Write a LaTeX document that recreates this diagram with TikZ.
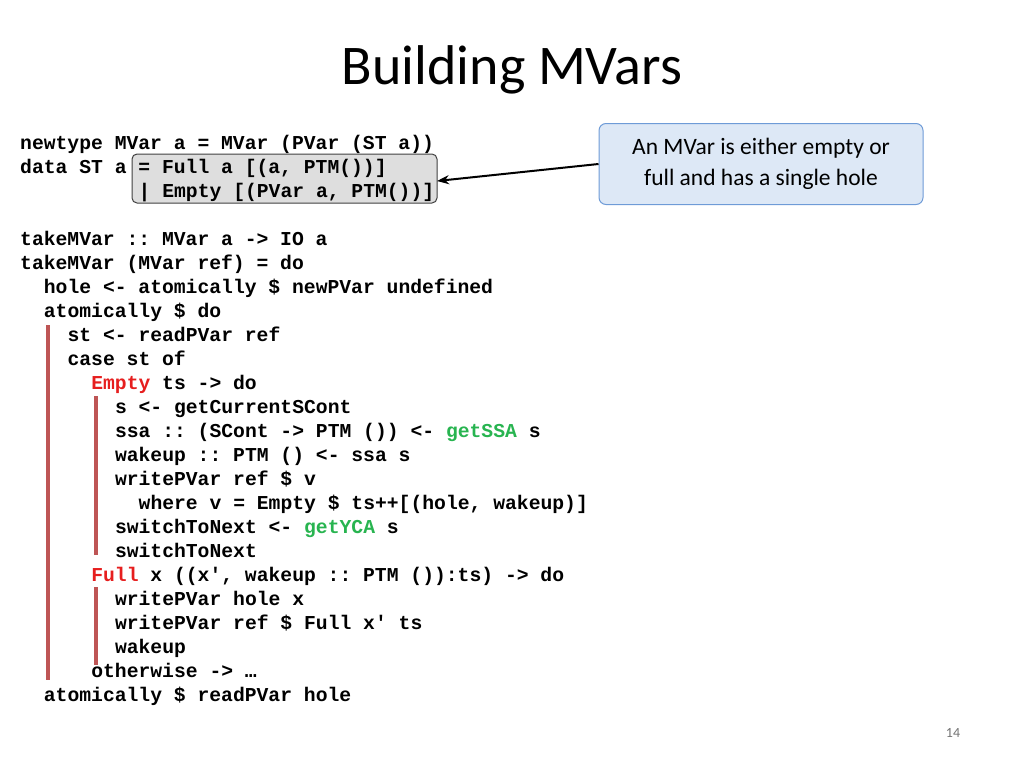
\documentclass[tikz,border=0pt]{standalone}
\usepackage{fontspec}
\usetikzlibrary{arrows.meta}
\setmainfont{Carlito}
\setmonofont{Liberation Mono}
\definecolor{kred}{RGB}{230,30,30}
\definecolor{kgreen}{RGB}{40,180,80}
\definecolor{barred}{RGB}{190,85,85}
\definecolor{callfill}{RGB}{221,232,246}
\definecolor{calldraw}{RGB}{110,155,215}
\newcommand\codeline[4]{\node[code] (#1) at ({20+#2*11.85},{#3+7}) {#4};}
\newcommand\R[1]{\textcolor{kred}{#1}}
\newcommand\G[1]{\textcolor{kgreen}{#1}}
\begin{document}
\begin{tikzpicture}[x=1pt,y=-1pt,
  code/.style={anchor=base west,inner sep=0pt,font=\fontsize{19.7}{24}\ttfamily\bfseries},
  bar/.style={barred,line width=4pt},
  hl/.style={draw=black!75,fill=black!13,rounded corners=5pt,line width=1pt}]
\useasboundingbox (0,0) rectangle (1024,768);
\node[font=\fontsize{56}{60}\selectfont] (title) at (512,70) {Building MVars};
\draw[hl] (132,154) rectangle (437,203);
\codeline{l1}{0}{142}{newtype MVar a = MVar (PVar (ST a))}
\codeline{l2}{0}{166}{data ST a = Full a [(a, PTM())]}
\codeline{l3}{10}{190}{| Empty [(PVar a, PTM())]}
\coordinate (boxr) at (437,181);
\node[draw=calldraw,fill=callfill,rounded corners=7pt,line width=1pt,minimum width=324pt,minimum height=81pt,align=center,font=\fontsize{23.5}{31}\selectfont] (call) at (761,164) {An MVar is either empty or\\full and has a single hole};
\draw[-{Stealth[length=12pt,width=9pt]},line width=2pt] (call.west) -- (boxr);
\codeline{c1}{0}{238}{takeMVar :: MVar a -> IO a}
\codeline{c2}{0}{262}{takeMVar (MVar ref) = do}
\codeline{c3}{2}{286}{hole <- atomically \$ newPVar undefined}
\codeline{c4}{2}{310}{atomically \$ do}
\codeline{c5}{4}{334}{st <- readPVar ref}
\codeline{c6}{4}{358}{case st of}
\codeline{c7}{6}{382}{\R{Empty} ts -> do}
\codeline{c8}{8}{406}{s <- getCurrentSCont}
\codeline{c9}{8}{430}{ssa :: (SCont -> PTM ()) <- \G{getSSA} s}
\codeline{c10}{8}{454}{wakeup :: PTM () <- ssa s}
\codeline{c11}{8}{478}{writePVar ref \$ v}
\codeline{c12}{10}{502}{where v = Empty \$ ts++[(hole, wakeup)]}
\codeline{c13}{8}{526}{switchToNext <- \G{getYCA} s}
\codeline{c14}{8}{550}{switchToNext}
\codeline{c15}{6}{574}{\R{Full} x ((x', wakeup :: PTM ()):ts) -> do}
\codeline{c16}{8}{598}{writePVar hole x}
\codeline{c17}{8}{622}{writePVar ref \$ Full x' ts}
\codeline{c18}{8}{646}{wakeup}
\codeline{c19}{6}{670}{otherwise -> …}
\codeline{c20}{2}{694}{atomically \$ readPVar hole}
\draw[bar] (48,325) -- (48,680);
\draw[bar] (96,396) -- (96,555);
\draw[bar] (96,587) -- (96,665);
\node[text=black!55,font=\fontsize{14}{16}\selectfont] (pg) at (953,733) {14};
\end{tikzpicture}
\end{document}
